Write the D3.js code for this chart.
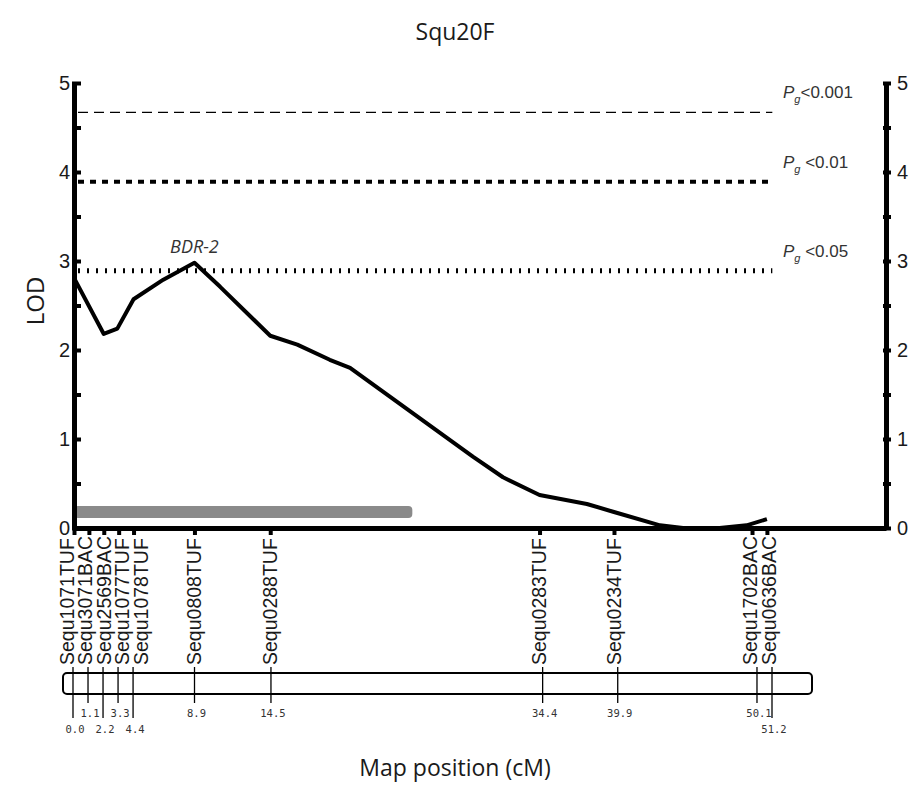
<!DOCTYPE html>
<html lang="en">
<head>
<meta charset="UTF-8">
<title>Squ20F</title>
<script src="https://cdn.jsdelivr.net/npm/d3@7"></script>
<style>
    body { margin: 0; background: #fff; }
    svg text { fill: #1a1a1a; }
</style>
</head>
<body>
<script>
    // markers on the linkage group and their map positions (cM)
    var markers = ["Sequ1071TUF", "Sequ3071BAC", "Sequ2569BAC", "Sequ1077TUF", "Sequ1078TUF",
        "Sequ0808TUF", "Sequ0288TUF", "Sequ0283TUF", "Sequ0234TUF", "Sequ1702BAC", "Sequ0636BAC"];
    var markerPos = [0.0, 1.1, 2.2, 3.3, 4.4, 8.9, 14.5, 34.4, 39.9, 50.1, 51.2];

    // LOD profile
    var lodPos = [0, 2.2, 3.2, 4.4, 6.6, 8.9, 10.8, 14.5, 16.5, 18.9, 20.4, 29.5, 31.7, 34.4, 37.9, 39.9, 43.3, 45.0, 47.7, 49.7, 51.2];
    var lodVal = [2.81, 2.18, 2.24, 2.57, 2.79, 2.98, 2.71, 2.16, 2.06, 1.89, 1.80, 0.80, 0.57, 0.37, 0.27, 0.18, 0.03, 0.0, 0.0, 0.03, 0.10];

    // genome-wide thresholds
    var thrLod = [4.67, 3.89, 2.89];
    var thrLabel = ["<0.001", " <0.01", " <0.05"];

    // confidence interval of the QTL
    var ciRange = [0, 25.0];
    var ciLod = 0.18;
    var qtlName = "BDR-2", qtlPos = 8.9;

    var yTicks = [0, 0.5, 1, 1.5, 2, 2.5, 3, 3.5, 4, 4.5, 5];

    var width = 912, height = 785;
    var svg = d3.select("body").append("svg").attr("width", width).attr("height", height);

    var x = d3.scaleLinear().domain([0, 60]).range([74, 886]);
    var y = d3.scaleLinear().domain([0, 5]).range([528, 83]);
    var mapX = d3.scaleLinear().domain([0, 51.2]).range([73, 772]);

    var sans = "'Liberation Sans', Arial, sans-serif";
    var title = "'Open Sans', sans-serif";

    // title + axis titles
    svg.append("text").attr("x", 455).attr("y", 40).attr("text-anchor", "middle")
        .style("font-family", title).style("font-size", "23px").text("Squ20F");
    svg.append("text").attr("transform", "translate(44,301) rotate(-90)").attr("text-anchor", "middle")
        .style("font-family", title).style("font-size", "24px").text("LOD");
    svg.append("text").attr("x", 455).attr("y", 776).attr("text-anchor", "middle")
        .style("font-family", title).style("font-size", "23px").text("Map position (cM)");

    // threshold lines
    var dashes = ["10,6", "6,6", "2,7"];
    var widths = [1.4, 4, 5];
    thrLod.forEach(function(v, i) {
        svg.append("line")
            .attr("x1", x(0) + 4).attr("x2", x(51.6))
            .attr("y1", y(v)).attr("y2", y(v))
            .attr("stroke", "#000").attr("stroke-width", widths[i])
            .attr("stroke-dasharray", dashes[i]);
        var t = svg.append("text").attr("x", 783).attr("y", y(v) - 14)
            .style("font-family", sans).style("font-size", "17px").style("fill", "#333");
        t.append("tspan").style("font-style", "italic").text("P");
        t.append("tspan").style("font-style", "italic").style("font-size", "11px").attr("dy", 5).text("g");
        t.append("tspan").attr("dy", -5).text(thrLabel[i]);
    });

    // confidence interval bar
    svg.append("rect")
        .attr("x", x(ciRange[0])).attr("width", x(ciRange[1]) - x(ciRange[0]))
        .attr("y", y(ciLod) - 6).attr("height", 12).attr("rx", 4)
        .attr("fill", "#8a8a8a");

    // LOD curve
    var line = d3.line().x(function(d) { return x(d[0]); }).y(function(d) { return y(d[1]); });
    svg.append("path")
        .datum(d3.zip(lodPos, lodVal))
        .attr("d", line)
        .attr("fill", "none").attr("stroke", "#000").attr("stroke-width", 4)
        .attr("stroke-linejoin", "round");

    svg.append("text").attr("x", x(qtlPos)).attr("y", 253).attr("text-anchor", "middle")
        .style("font-family", title).style("font-size", "18px").style("font-style", "italic")
        .style("fill", "#333").text(qtlName);

    // axes
    function styleAxis(g) {
        g.select(".domain").attr("stroke", "#000").attr("stroke-width", 5);
        g.selectAll(".tick line").attr("stroke", "#000").attr("stroke-width", 4);
        g.selectAll(".tick text").style("font-family", sans).style("font-size", "20px").style("fill", "#1a1a1a");
    }
    var fmt = function(d) { return d % 1 === 0 ? d : ""; };

    var gl = svg.append("g").attr("transform", "translate(" + x(0) + ",0)")
        .call(d3.axisLeft(y).tickValues(yTicks).tickSize(-7).tickSizeOuter(0).tickPadding(4).tickFormat(fmt))
        .call(styleAxis);
    gl.selectAll(".tick line").attr("x1", -2);

    var gr = svg.append("g").attr("transform", "translate(" + x(60) + ",0)")
        .call(d3.axisRight(y).tickValues(yTicks).tickSize(5).tickSizeOuter(0).tickPadding(6).tickFormat(fmt))
        .call(styleAxis);
    gr.selectAll(".tick line").attr("x1", -3);

    svg.append("g").attr("transform", "translate(0," + y(0) + ")")
        .call(d3.axisBottom(x).tickValues(markerPos).tickSize(7).tickSizeOuter(0).tickFormat(""))
        .call(styleAxis);

    // spread crowded marker labels
    var minGap = 18.5;
    var clusters = [];
    markerPos.forEach(function(p, i) {
        var last = clusters[clusters.length - 1];
        if (last && x(p) - x(markerPos[last[last.length - 1]]) < minGap) last.push(i);
        else clusters.push([i]);
    });
    var labelX = [], row = [];
    clusters.forEach(function(c) {
        var mean = d3.mean(c, function(i) { return x(markerPos[i]); });
        c.forEach(function(i, k) {
            labelX[i] = mean + (k - (c.length - 1) / 2) * minGap;
            row[i] = c.length > 1 && (c.length - 1 - k) % 2 === 0 ? 2 : 1;
        });
    });

    svg.selectAll(".mlabel").data(markers).enter().append("text")
        .attr("class", "mlabel")
        .attr("transform", function(d, i) { return "translate(" + labelX[i] + ",665) rotate(-90)"; })
        .attr("dy", "0.35em")
        .style("font-family", sans).style("font-size", "19.5px")
        .text(function(d) { return d; });

    // chromosome map bar
    svg.append("rect")
        .attr("x", mapX(0) - 10).attr("y", 673)
        .attr("width", mapX(51.2) - mapX(0) + 50).attr("height", 21)
        .attr("rx", 4).attr("fill", "#fff").attr("stroke", "#000").attr("stroke-width", 2);

    svg.selectAll(".mline").data(markerPos).enter().append("line")
        .attr("class", "mline")
        .attr("x1", function(d) { return mapX(d); }).attr("x2", function(d) { return mapX(d); })
        .attr("y1", 667).attr("y2", function(d, i) { return row[i] === 2 ? 718 : 703; })
        .attr("stroke", "#000").attr("stroke-width", 1.3);

    svg.selectAll(".mpos").data(markerPos).enter().append("text")
        .attr("class", "mpos")
        .attr("x", function(d) { return mapX(d) + 2; })
        .attr("y", function(d, i) { return row[i] === 2 ? 733 : 717; })
        .attr("text-anchor", "middle")
        .style("font-family", "'DejaVu Sans Mono', monospace").style("font-size", "10.5px").style("fill", "#333")
        .text(function(d) { return d.toFixed(1); });
</script>
</body>
</html>
